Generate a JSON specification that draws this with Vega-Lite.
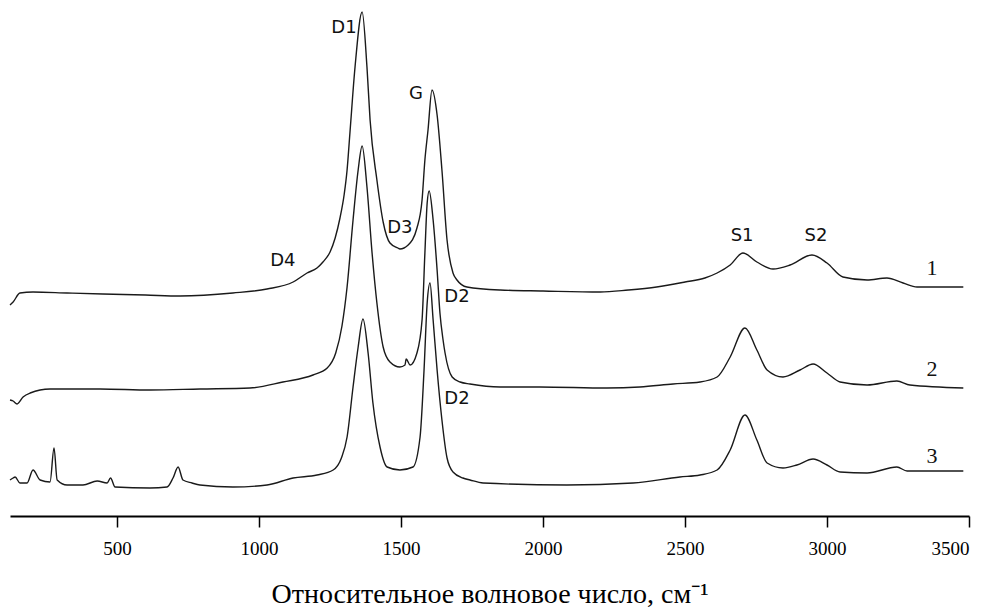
{
  "$schema": "https://vega.github.io/schema/vega-lite/v6.json",
  "width": 959,
  "height": 516,
  "autosize": {"type": "none"},
  "padding": {"left": 10, "top": 0, "right": 26, "bottom": 98},
  "background": "white",
  "config": {"view": {"stroke": null}},
  "datasets": {
    "spectra": [
      {"s":1,"wn":123,"I":211},{"s":1,"wn":134,"I":214},{"s":1,"wn":158,"I":223},{"s":1,"wn":204,"I":224},{"s":1,"wn":324,"I":223},{"s":1,"wn":450,"I":222},{"s":1,"wn":600,"I":221},{"s":1,"wn":722,"I":220},{"s":1,"wn":908,"I":223},{"s":1,"wn":1028,"I":227},{"s":1,"wn":1120,"I":234},{"s":1,"wn":1169,"I":243},{"s":1,"wn":1204,"I":248},{"s":1,"wn":1225,"I":254},{"s":1,"wn":1250,"I":264},{"s":1,"wn":1268,"I":278},{"s":1,"wn":1285,"I":298},{"s":1,"wn":1300,"I":322},{"s":1,"wn":1310,"I":346},{"s":1,"wn":1320,"I":383},{"s":1,"wn":1338,"I":449},{"s":1,"wn":1363,"I":504},{"s":1,"wn":1380,"I":449},{"s":1,"wn":1391,"I":396},{"s":1,"wn":1415,"I":336},{"s":1,"wn":1437,"I":294},{"s":1,"wn":1461,"I":273},{"s":1,"wn":1489,"I":268},{"s":1,"wn":1496,"I":267},{"s":1,"wn":1525,"I":271},{"s":1,"wn":1556,"I":288},{"s":1,"wn":1574,"I":316},{"s":1,"wn":1584,"I":356},{"s":1,"wn":1595,"I":386},{"s":1,"wn":1609,"I":426},{"s":1,"wn":1627,"I":401},{"s":1,"wn":1644,"I":346},{"s":1,"wn":1662,"I":276},{"s":1,"wn":1683,"I":243},{"s":1,"wn":1697,"I":236},{"s":1,"wn":1732,"I":229},{"s":1,"wn":1849,"I":226},{"s":1,"wn":2000,"I":225},{"s":1,"wn":2201,"I":224},{"s":1,"wn":2300,"I":226},{"s":1,"wn":2400,"I":229},{"s":1,"wn":2500,"I":234},{"s":1,"wn":2570,"I":238},{"s":1,"wn":2613,"I":243},{"s":1,"wn":2659,"I":251},{"s":1,"wn":2704,"I":263},{"s":1,"wn":2753,"I":254},{"s":1,"wn":2810,"I":247},{"s":1,"wn":2870,"I":251},{"s":1,"wn":2947,"I":261},{"s":1,"wn":3000,"I":253},{"s":1,"wn":3056,"I":239},{"s":1,"wn":3141,"I":236},{"s":1,"wn":3211,"I":238},{"s":1,"wn":3268,"I":233},{"s":1,"wn":3317,"I":229},{"s":1,"wn":3480,"I":229},
      {"s":2,"wn":123,"I":116},{"s":2,"wn":134,"I":115},{"s":2,"wn":148,"I":112},{"s":2,"wn":169,"I":119},{"s":2,"wn":194,"I":123},{"s":2,"wn":264,"I":127},{"s":2,"wn":440,"I":127},{"s":2,"wn":616,"I":126},{"s":2,"wn":792,"I":127},{"s":2,"wn":968,"I":128},{"s":2,"wn":1084,"I":134},{"s":2,"wn":1190,"I":141},{"s":2,"wn":1240,"I":148},{"s":2,"wn":1270,"I":163},{"s":2,"wn":1292,"I":190},{"s":2,"wn":1310,"I":229},{"s":2,"wn":1331,"I":296},{"s":2,"wn":1349,"I":346},{"s":2,"wn":1363,"I":370},{"s":2,"wn":1380,"I":329},{"s":2,"wn":1398,"I":263},{"s":2,"wn":1415,"I":213},{"s":2,"wn":1437,"I":169},{"s":2,"wn":1461,"I":154},{"s":2,"wn":1496,"I":149},{"s":2,"wn":1514,"I":151},{"s":2,"wn":1518,"I":157},{"s":2,"wn":1532,"I":151},{"s":2,"wn":1556,"I":163},{"s":2,"wn":1574,"I":196},{"s":2,"wn":1584,"I":263},{"s":2,"wn":1592,"I":313},{"s":2,"wn":1599,"I":325},{"s":2,"wn":1613,"I":296},{"s":2,"wn":1627,"I":246},{"s":2,"wn":1637,"I":203},{"s":2,"wn":1648,"I":176},{"s":2,"wn":1655,"I":163},{"s":2,"wn":1680,"I":139},{"s":2,"wn":1708,"I":134},{"s":2,"wn":1743,"I":132},{"s":2,"wn":1849,"I":129},{"s":2,"wn":1989,"I":129},{"s":2,"wn":2225,"I":128},{"s":2,"wn":2341,"I":129},{"s":2,"wn":2458,"I":132},{"s":2,"wn":2553,"I":134},{"s":2,"wn":2613,"I":139},{"s":2,"wn":2659,"I":159},{"s":2,"wn":2711,"I":188},{"s":2,"wn":2753,"I":166},{"s":2,"wn":2789,"I":146},{"s":2,"wn":2845,"I":139},{"s":2,"wn":2905,"I":146},{"s":2,"wn":2951,"I":152},{"s":2,"wn":3000,"I":143},{"s":2,"wn":3046,"I":134},{"s":2,"wn":3141,"I":131},{"s":2,"wn":3246,"I":135},{"s":2,"wn":3292,"I":131},{"s":2,"wn":3480,"I":128},
      {"s":3,"wn":123,"I":36},{"s":3,"wn":134,"I":38},{"s":3,"wn":141,"I":39},{"s":3,"wn":158,"I":33},{"s":3,"wn":183,"I":33},{"s":3,"wn":204,"I":46},{"s":3,"wn":229,"I":36},{"s":3,"wn":264,"I":34},{"s":3,"wn":278,"I":68},{"s":3,"wn":289,"I":36},{"s":3,"wn":324,"I":31},{"s":3,"wn":380,"I":31},{"s":3,"wn":430,"I":35},{"s":3,"wn":465,"I":33},{"s":3,"wn":477,"I":38},{"s":3,"wn":493,"I":29},{"s":3,"wn":616,"I":28},{"s":3,"wn":676,"I":29},{"s":3,"wn":697,"I":38},{"s":3,"wn":715,"I":49},{"s":3,"wn":732,"I":36},{"s":3,"wn":764,"I":33},{"s":3,"wn":792,"I":31},{"s":3,"wn":908,"I":29},{"s":3,"wn":1028,"I":31},{"s":3,"wn":1120,"I":38},{"s":3,"wn":1204,"I":41},{"s":3,"wn":1261,"I":46},{"s":3,"wn":1290,"I":58},{"s":3,"wn":1310,"I":79},{"s":3,"wn":1331,"I":129},{"s":3,"wn":1349,"I":169},{"s":3,"wn":1366,"I":197},{"s":3,"wn":1384,"I":163},{"s":3,"wn":1401,"I":113},{"s":3,"wn":1426,"I":69},{"s":3,"wn":1451,"I":49},{"s":3,"wn":1496,"I":46},{"s":3,"wn":1542,"I":49},{"s":3,"wn":1567,"I":79},{"s":3,"wn":1581,"I":146},{"s":3,"wn":1592,"I":213},{"s":3,"wn":1602,"I":233},{"s":3,"wn":1613,"I":196},{"s":3,"wn":1627,"I":146},{"s":3,"wn":1644,"I":96},{"s":3,"wn":1662,"I":58},{"s":3,"wn":1683,"I":44},{"s":3,"wn":1718,"I":38},{"s":3,"wn":1743,"I":36},{"s":3,"wn":1789,"I":33},{"s":3,"wn":2084,"I":31},{"s":3,"wn":2317,"I":33},{"s":3,"wn":2482,"I":39},{"s":3,"wn":2553,"I":41},{"s":3,"wn":2613,"I":46},{"s":3,"wn":2659,"I":66},{"s":3,"wn":2711,"I":101},{"s":3,"wn":2753,"I":76},{"s":3,"wn":2789,"I":53},{"s":3,"wn":2845,"I":48},{"s":3,"wn":2894,"I":51},{"s":3,"wn":2951,"I":57},{"s":3,"wn":3000,"I":51},{"s":3,"wn":3046,"I":44},{"s":3,"wn":3141,"I":43},{"s":3,"wn":3246,"I":49},{"s":3,"wn":3282,"I":45},{"s":3,"wn":3480,"I":45}
    ],
    "peaks": [
      {"label":"D1","wn":1299,"I":488},
      {"label":"G","wn":1553,"I":422},
      {"label":"D3","wn":1496,"I":288},
      {"label":"D4","wn":1084,"I":255},
      {"label":"S1","wn":2701,"I":280},
      {"label":"S2","wn":2961,"I":280},
      {"label":"D2","wn":1697,"I":219},
      {"label":"D2","wn":1697,"I":117}
    ],
    "nums": [
      {"label":"1","wn":3370,"I":248},
      {"label":"2","wn":3370,"I":147},
      {"label":"3","wn":3370,"I":60}
    ]
  },
  "layer": [
    {
      "data": {"name": "spectra"},
      "mark": {"type": "line", "color": "#1a1a1a", "strokeWidth": 1.4, "interpolate": "monotone", "clip": false},
      "encoding": {
        "x": {
          "field": "wn", "type": "quantitative",
          "scale": {"domain": [123, 3500], "nice": false, "zero": false},
          "axis": {
            "values": [500, 1000, 1500, 2000, 2500, 3000, 3500],
            "format": "d",
            "grid": false,
            "domainColor": "#000", "domainWidth": 2,
            "tickColor": "#000", "tickWidth": 1.5, "tickSize": 11,
            "labelFont": "Liberation Serif", "labelFontSize": 19, "labelColor": "#000", "labelPadding": 12,
            "title": "Относительное волновое число, см⁻¹",
            "titleFont": "Liberation Serif", "titleFontSize": 28, "titleFontWeight": "normal", "titleColor": "#000", "titlePadding": 22
          }
        },
        "y": {"field": "I", "type": "quantitative", "scale": {"domain": [0, 516], "nice": false}, "axis": null},
        "detail": {"field": "s"}
      }
    },
    {
      "data": {"name": "peaks"},
      "mark": {"type": "text", "font": "DejaVu Sans", "fontSize": 18, "color": "#111", "align": "center", "baseline": "middle"},
      "encoding": {
        "x": {"field": "wn", "type": "quantitative"},
        "y": {"field": "I", "type": "quantitative"},
        "text": {"field": "label"}
      }
    },
    {
      "data": {"name": "nums"},
      "mark": {"type": "text", "font": "Liberation Serif", "fontSize": 22, "color": "#111", "align": "center", "baseline": "middle"},
      "encoding": {
        "x": {"field": "wn", "type": "quantitative"},
        "y": {"field": "I", "type": "quantitative"},
        "text": {"field": "label"}
      }
    }
  ]
}
